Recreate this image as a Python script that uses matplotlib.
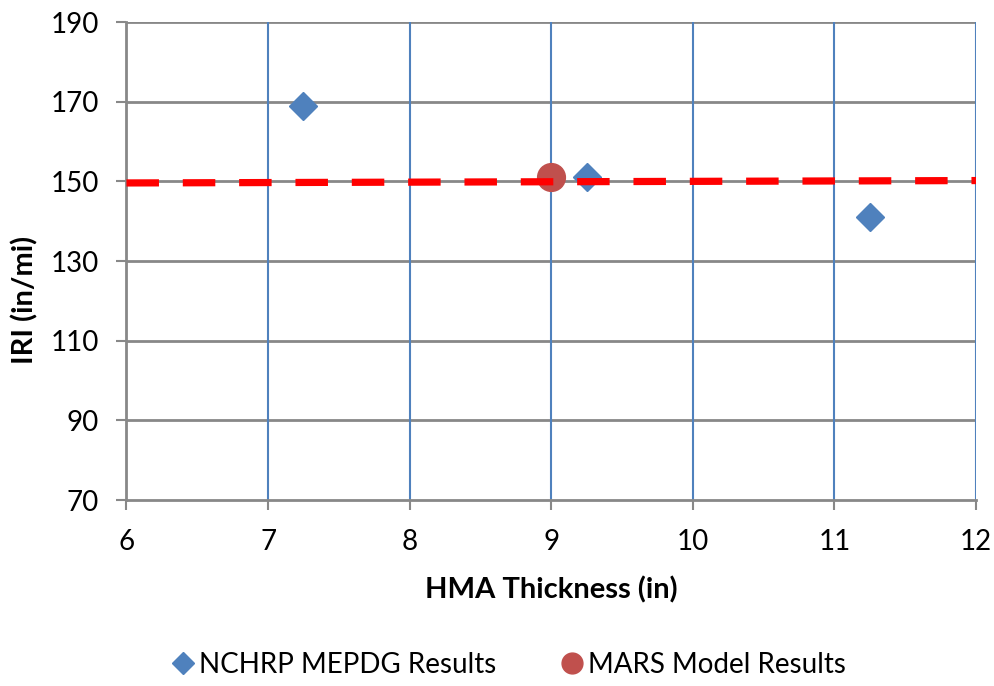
import matplotlib
matplotlib.use("Agg")
import matplotlib.pyplot as plt
from matplotlib.lines import Line2D

plt.rcParams['font.family'] = ['Lato', 'DejaVu Sans']

# Data
mepdg_thickness = [7.25, 9.25, 11.25]
mepdg_iri = [169, 151, 141]
mars_thickness = [9]
mars_iri = [151]
mars_line_thickness = [6, 12]
mars_line_iri = [149.6, 150.2]

x_ticks = [6, 7, 8, 9, 10, 11, 12]
y_ticks = [70, 90, 110, 130, 150, 170, 190]

blue = '#4F81BD'
dark_red = '#C0504D'
grid_gray = '#888888'

fig = plt.figure(figsize=(9.95, 6.86), dpi=100)
ax = fig.add_axes([0.1271, 0.2711, 0.8539, 0.6968])

ax.set_xlim(6, 12)
ax.set_ylim(70, 190)
ax.set_xticks(x_ticks)
ax.set_yticks(y_ticks)

# Gridlines: gray horizontal, blue vertical
for y in y_ticks[1:]:
    ax.axhline(y, color=grid_gray, lw=2.0, zorder=1)
for x in x_ticks[1:]:
    ax.axvline(x, color=blue, lw=1.5, zorder=1)

for side in ['top', 'right']:
    ax.spines[side].set_visible(False)
for side in ['left', 'bottom']:
    ax.spines[side].set_color(grid_gray)
    ax.spines[side].set_linewidth(2.0)

ax.tick_params(axis='both', direction='out', length=7, width=1.5,
               color=grid_gray, labelsize=20)
ax.tick_params(axis='y', pad=13)
ax.tick_params(axis='x', pad=14)

ax.plot(mepdg_thickness, mepdg_iri, linestyle='none', marker='D',
        markersize=14.5, color=blue, zorder=3, clip_on=False)
ax.plot(mars_thickness, mars_iri, linestyle='none', marker='o',
        markersize=20, color=dark_red, zorder=3, clip_on=False)
ax.plot(mars_line_thickness, mars_line_iri, color='#FF0000', lw=5.2,
        dashes=(4.5, 3.3), dash_capstyle='butt', zorder=4)

ax.set_xlabel('HMA Thickness (in)', fontsize=21, fontweight='bold', labelpad=15)
ax.set_ylabel('IRI (in/mi)', fontsize=21, fontweight='bold')
ax.yaxis.set_label_coords(-0.104, 0.418)

handles = [
    Line2D([], [], linestyle='none', marker='D', markersize=11, color=blue),
    Line2D([], [], linestyle='none', marker='o', markersize=15, color=dark_red),
]
fig.legend(handles, ['NCHRP MEPDG Results', 'MARS Model Results'],
           loc='center', bbox_to_anchor=(0.51, 0.031), ncol=2, frameon=False,
           fontsize=20, handletextpad=0.1, columnspacing=2.2, handlelength=1.0)

fig.savefig('out.png', dpi=100)
